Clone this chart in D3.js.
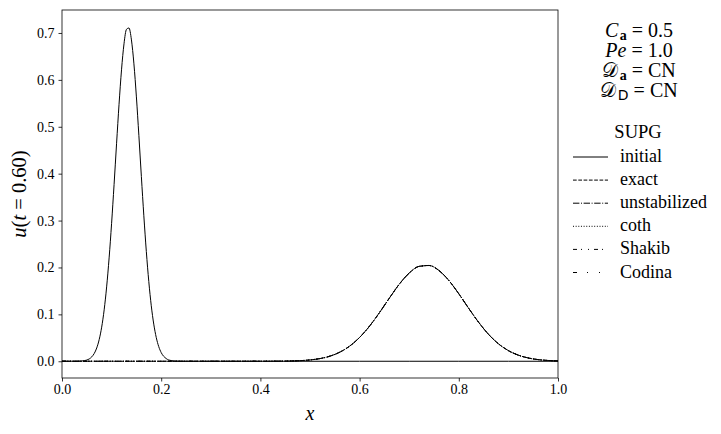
<!DOCTYPE html>
<html>
<head>
<meta charset="utf-8">
<script src="https://cdn.jsdelivr.net/npm/d3@7"></script>
<style>
  body { margin: 0; background: #fff; }
  svg { display: block; }
</style>
</head>
<body>
<svg id="chart" width="721" height="434"></svg>
<script>
// ---------- data ----------
const xInitial = [0.00, 0.03, 0.04, 0.05, 0.06, 0.065, 0.07, 0.075, 0.08, 0.085, 0.09, 0.095, 0.10, 0.105, 0.11, 0.115, 0.12, 0.125, 0.13, 0.135, 0.14, 0.145, 0.15, 0.155, 0.16, 0.165, 0.17, 0.175, 0.18, 0.185, 0.19, 0.195, 0.20, 0.21, 0.22, 0.23, 0.24, 0.30, 0.40, 0.50, 0.60, 0.70, 0.80, 0.90, 1.00];
const initial = [0.0000, 0.0001, 0.0006, 0.0026, 0.0094, 0.0166, 0.0283, 0.0463, 0.0727, 0.1096, 0.1586, 0.2204, 0.2942, 0.3770, 0.4638, 0.5479, 0.6214, 0.6769, 0.7078, 0.7107, 0.6852, 0.6342, 0.5637, 0.4811, 0.3941, 0.3102, 0.2343, 0.1699, 0.1183, 0.0792, 0.0508, 0.0313, 0.0185, 0.0058, 0.0015, 0.0003, 0.0000, 0.0000, 0.0000, 0.0000, 0.0000, 0.0000, 0.0000, 0.0000, 0.0000];

const xFinal = [0.00, 0.10, 0.20, 0.30, 0.40, 0.44, 0.48, 0.50, 0.52, 0.54, 0.56, 0.58, 0.60, 0.62, 0.64, 0.66, 0.68, 0.70, 0.72, 0.74, 0.76, 0.78, 0.80, 0.82, 0.84, 0.86, 0.88, 0.90, 0.92, 0.94, 0.96, 0.98, 1.00];
const exact        = [0, 0, 0, 0, 0.0000, 0.0002, 0.0013, 0.0028, 0.0057, 0.0108, 0.0193, 0.0323, 0.0508, 0.0748, 0.1036, 0.1346, 0.1643, 0.1881, 0.2023, 0.2042, 0.1935, 0.1722, 0.1439, 0.1128, 0.0831, 0.0574, 0.0372, 0.0227, 0.0130, 0.0070, 0.0035, 0.0017, 0.0007];
const unstabilized = [0, 0, 0, 0, 0.0000, 0.0002, 0.0013, 0.0028, 0.0057, 0.0108, 0.0193, 0.0324, 0.0509, 0.0749, 0.1037, 0.1347, 0.1644, 0.1882, 0.2024, 0.2043, 0.1936, 0.1722, 0.1438, 0.1127, 0.0830, 0.0573, 0.0372, 0.0227, 0.0130, 0.0070, 0.0035, 0.0017, 0.0007];
const coth         = [0, 0, 0, 0, 0.0000, 0.0002, 0.0013, 0.0028, 0.0057, 0.0108, 0.0193, 0.0323, 0.0508, 0.0748, 0.1036, 0.1346, 0.1642, 0.1880, 0.2022, 0.2041, 0.1934, 0.1721, 0.1439, 0.1128, 0.0831, 0.0574, 0.0372, 0.0227, 0.0130, 0.0070, 0.0035, 0.0017, 0.0007];
const shakib       = [0, 0, 0, 0, 0.0000, 0.0002, 0.0013, 0.0028, 0.0057, 0.0108, 0.0193, 0.0323, 0.0508, 0.0748, 0.1036, 0.1346, 0.1642, 0.1880, 0.2022, 0.2041, 0.1934, 0.1721, 0.1439, 0.1128, 0.0831, 0.0574, 0.0372, 0.0227, 0.0130, 0.0070, 0.0035, 0.0017, 0.0007];
const codina       = [0, 0, 0, 0, 0.0000, 0.0002, 0.0013, 0.0028, 0.0057, 0.0108, 0.0193, 0.0323, 0.0508, 0.0748, 0.1036, 0.1346, 0.1642, 0.1880, 0.2022, 0.2041, 0.1934, 0.1721, 0.1439, 0.1128, 0.0831, 0.0574, 0.0372, 0.0227, 0.0130, 0.0070, 0.0035, 0.0017, 0.0007];

const seriesNames = ["initial", "exact", "unstabilized", "coth", "Shakib", "Codina"];
const xTicks = [0.0, 0.2, 0.4, 0.6, 0.8, 1.0];
const yTicks = [0.0, 0.1, 0.2, 0.3, 0.4, 0.5, 0.6, 0.7];
const xDomain = [0, 1];
const yDomain = [-0.0357, 0.749];
const legendTitle = "SUPG";

// ---------- layout ----------
const SERIF = "Liberation Serif";
const svg = d3.select("#chart");
const L = 62, R = 558, T = 10, B = 378;
const x = d3.scaleLinear().domain(xDomain).range([L, R]);
const y = d3.scaleLinear().domain(yDomain).range([B, T]);

const dashes = {
  initial: null,
  exact: "3.7,1.6",
  unstabilized: "6.4,1.6,1,1.6",
  coth: "1,1.65",
  Shakib: "4,4,1,6,1,5",
  Codina: "4,10,1,11,1,11"
};

const series = [
  { name: "initial", xs: xInitial, ys: initial },
  { name: "exact", xs: xFinal, ys: exact },
  { name: "unstabilized", xs: xFinal, ys: unstabilized },
  { name: "coth", xs: xFinal, ys: coth },
  { name: "Shakib", xs: xFinal, ys: shakib },
  { name: "Codina", xs: xFinal, ys: codina }
];

const line = d3.line()
  .x(d => x(d[0]))
  .y(d => y(d[1]))
  .curve(d3.curveMonotoneX);

svg.append("defs").append("clipPath").attr("id", "clip")
  .append("rect").attr("x", L).attr("y", T).attr("width", R - L).attr("height", B - T);

const plot = svg.append("g").attr("clip-path", "url(#clip)");
series.forEach(s => {
  plot.append("path")
    .datum(s.xs.map((v, i) => [v, s.ys[i]]))
    .attr("d", line)
    .attr("fill", "none")
    .attr("stroke", "#000")
    .attr("stroke-width", 1)
    .attr("stroke-dasharray", dashes[s.name]);
});

// axes
const xAxis = d3.axisBottom(x).tickValues(xTicks).tickFormat(d3.format(".1f")).tickSize(3.5).tickPadding(3);
const yAxis = d3.axisLeft(y).tickValues(yTicks).tickFormat(d3.format(".1f")).tickSize(3.5).tickPadding(4);

const gx = svg.append("g").attr("transform", `translate(0,${B})`).call(xAxis);
const gy = svg.append("g").attr("transform", `translate(${L},0)`).call(yAxis);
[gx, gy].forEach(g => {
  g.attr("font-family", SERIF).attr("font-size", 14);
  g.select(".domain").remove();
  g.selectAll("line").attr("stroke", "#000").attr("stroke-width", 0.8);
  g.selectAll("text").attr("fill", "#000");
});

svg.append("rect").attr("x", L).attr("y", T).attr("width", R - L).attr("height", B - T)
  .attr("fill", "none").attr("stroke", "#000").attr("stroke-width", 0.8);

// axis labels
svg.append("text").attr("x", (L + R) / 2).attr("y", 420).attr("text-anchor", "middle")
  .attr("font-family", SERIF).attr("font-size", 20).attr("font-style", "italic").text("x");

const yl = svg.append("text").attr("transform", `translate(26,${(T + B) / 2}) rotate(-90)`)
  .attr("text-anchor", "middle").attr("font-family", SERIF).attr("font-size", 20.5);
yl.append("tspan").attr("font-style", "italic").text("u");
yl.append("tspan").text("(");
yl.append("tspan").attr("font-style", "italic").text("t");
yl.append("tspan").text(" = 0.60)");

// parameter annotation
const cx = 639;
function eqLine(yy, parts) {
  const t = svg.append("text").attr("x", cx).attr("y", yy).attr("text-anchor", "middle")
    .attr("font-family", SERIF).attr("font-size", 20);
  parts.forEach(p => {
    const ts = t.append("tspan").text(p.t);
    if (p.i) ts.attr("font-style", "italic");
    if (p.b) ts.attr("font-weight", "bold");
    if (p.sub) ts.attr("font-size", 14).attr("dy", 3).attr("dx", 1.5);
    if (p.after) ts.attr("dy", -3);
    if (p.ff) ts.attr("font-family", p.ff);
  });
}
eqLine(37, [{ t: "C", i: 1 }, { t: "a", b: 1, sub: 1 }, { t: " = 0.5", after: 1 }]);
eqLine(57, [{ t: "Pe", i: 1 }, { t: " = 1.0" }]);
eqLine(77, [{ t: "\u{1D49F}" }, { t: "a", b: 1, sub: 1 }, { t: " = CN", after: 1 }]);
eqLine(97, [{ t: "\u{1D49F}" }, { t: "D", sub: 1, ff: "DejaVu Sans" }, { t: " = CN", after: 1 }]);

// legend
svg.append("text").attr("x", 638).attr("y", 138).attr("text-anchor", "middle")
  .attr("font-family", SERIF).attr("font-size", 18.5).text(legendTitle);
const leg = svg.append("g");
seriesNames.forEach((n, i) => {
  const yy = 157 + i * 23.1;
  leg.append("line").attr("x1", 573).attr("x2", 608).attr("y1", yy).attr("y2", yy)
    .attr("stroke", "#000").attr("stroke-width", 1).attr("stroke-dasharray", dashes[n]);
  leg.append("text").attr("x", 620).attr("y", yy + 5).attr("font-family", SERIF)
    .attr("font-size", 18).text(n);
});
</script>
</body>
</html>
